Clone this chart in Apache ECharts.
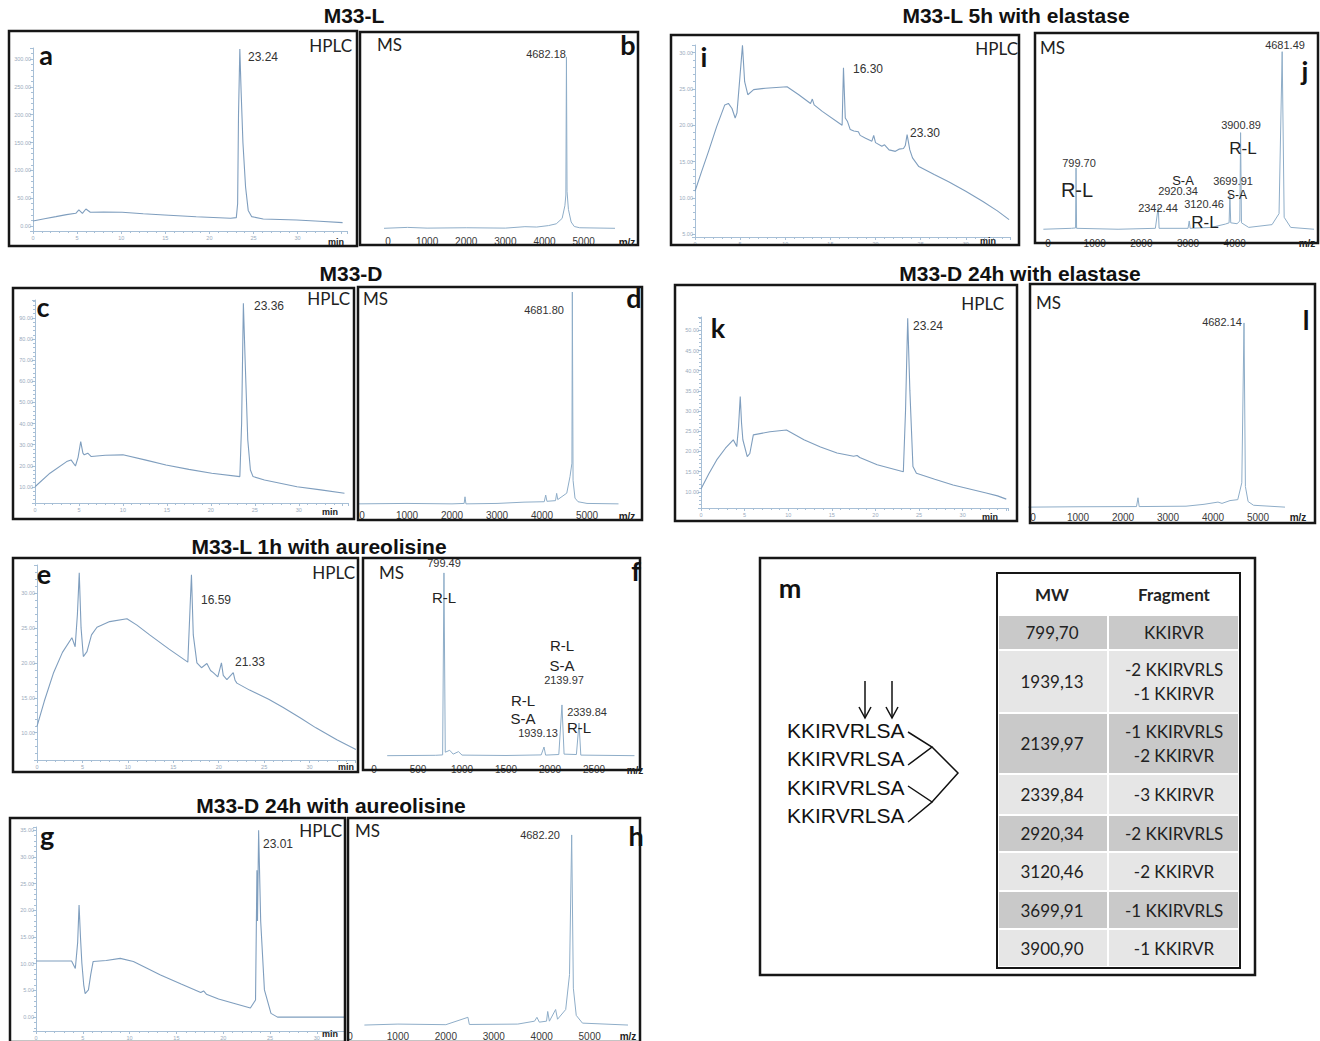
<!DOCTYPE html>
<html>
<head>
<meta charset="utf-8">
<script src="https://cdn.jsdelivr.net/npm/echarts@6/dist/echarts.min.js"></script>
<style>
  html, body { margin: 0; background: #fff; }
  #chart { width: 1320px; height: 1041px; }
</style>
</head>
<body>
<div id="chart"></div>
<script>
// ---- HPLC traces: [minutes, signal] ----
const traceA = [[0, 9], [1.3, 13], [2.6, 16.8], [3.8, 20.5], [4.85, 22.8], [5.2, 28.8], [5.6, 22.8], [6.0, 30.6], [6.5, 24.6], [8, 25], [10.1, 24.6], [12.5, 22], [14.9, 19.8], [18.5, 16.5], [22.4, 13.8], [23.05, 15], [23.2, 40], [23.3, 200], [23.45, 318], [23.6, 240], [23.8, 150], [24.1, 70], [24.4, 28], [24.8, 16.8], [26.1, 12.6], [29.9, 10.8], [32.5, 8.5], [35.1, 6]]
const traceC = [[0, 10.1], [1.7, 16.5], [3.6, 22], [4.1, 22.8], [4.6, 19.9], [4.9, 24], [5.2, 31.5], [5.45, 26], [5.6, 25.2], [6.0, 26], [6.4, 24.4], [8, 25], [10, 25.2], [12.5, 22.8], [14.9, 20.4], [17.5, 18.3], [20.1, 16.5], [23.3, 14.9], [23.5, 40], [23.7, 97], [23.9, 70], [24.2, 32.3], [24.5, 18], [24.8, 14.9], [26.1, 13.3], [29.8, 10.1], [32.5, 8.6], [35.2, 7]]
const traceE = [[0, 10.9], [0.8, 14.5], [1.8, 18.5], [2.8, 21.5], [3.84, 23.6], [4.2, 22.3], [4.45, 27], [4.65, 32.9], [4.85, 25], [5.1, 20.9], [5.5, 21.6], [6.0, 24], [6.6, 25.1], [8, 25.9], [9.9, 26.3], [11, 25.4], [12.4, 24], [14.5, 22], [16.6, 20.1], [16.85, 28], [17.0, 32.6], [17.2, 24], [17.6, 20], [18.1, 19.3], [18.7, 19.9], [19.1, 18.9], [19.4, 18.6], [19.9, 18], [20.3, 20], [20.5, 18.2], [20.9, 17.6], [21.6, 18.6], [21.8, 17.5], [22.0, 17.1], [23.4, 16.1], [25.5, 14.8], [27.1, 13.6], [29, 12.1], [30.7, 10.7], [33, 9], [35.1, 7.6]]
const traceG = [[0, 10.5], [3.8, 10.5], [4.2, 9.1], [4.45, 14], [4.6, 21], [4.75, 15], [4.9, 10.1], [5.1, 6], [5.25, 4.4], [5.6, 5.1], [5.85, 8], [6.1, 10.4], [7.5, 10.6], [9.0, 11], [10.4, 10.4], [11.8, 9.2], [13.3, 7.9], [15.5, 6.2], [17.6, 4.6], [17.9, 4.9], [18.2, 4.3], [19.5, 3.4], [21.1, 2.6], [22.9, 1.7], [23.45, 3.2], [23.6, 27.5], [23.66, 18], [23.78, 35], [24.0, 18], [24.4, 5.1], [25.1, 0.7], [25.8, 0], [33, 0]]
const traceI = [[0, 10.9], [0.7, 13.5], [1.5, 16.4], [2.4, 19.8], [3.3, 22.8], [3.7, 23], [4.1, 22.3], [4.45, 21], [4.65, 21.7], [5.0, 27], [5.26, 31], [5.5, 26], [5.85, 24.2], [6.5, 24.9], [7.8, 25.1], [10.2, 25.3], [11.5, 24.2], [12.8, 23], [13.0, 23.6], [13.2, 22.8], [14.1, 21.9], [16.3, 20.0], [16.45, 27.9], [16.65, 21], [16.9, 20.5], [17.2, 19.4], [17.6, 19.2], [18.1, 19.1], [18.3, 18.6], [18.9, 18.2], [19.6, 17.8], [19.8, 18.6], [20.0, 17.6], [20.7, 17.1], [21.0, 17.3], [21.5, 16.6], [22.2, 16.4], [22.6, 16.7], [23.1, 16.8], [23.3, 17.2], [23.5, 18.7], [23.8, 16.6], [24.1, 15.5], [24.8, 14.3], [26.5, 13.2], [28.1, 12.2], [30, 10.9], [31.9, 9.5], [33.5, 8.2], [34.8, 7.0]]
const traceK = [[0, 10.7], [0.9, 14.5], [1.8, 17.9], [2.8, 20.8], [3.7, 22.9], [4.1, 21.2], [4.3, 26], [4.5, 33.6], [4.65, 27], [4.8, 22.9], [5.3, 18.7], [5.6, 19.5], [6.0, 24.1], [7.9, 24.9], [9.8, 25.3], [11.8, 22.9], [13.7, 21.1], [15.6, 19.6], [17.5, 18.8], [17.9, 19.0], [18.2, 18.5], [20.2, 16.7], [23.2, 15.0], [23.45, 30], [23.7, 53], [23.95, 35], [24.3, 16.3], [24.7, 14.6], [26.8, 13.1], [28.9, 11.7], [30.8, 10.7], [32.7, 9.7], [34, 9], [35, 8.2]]

// ---- MS spectra: [m/z as drawn, relative intensity] ----
const msB = [[-100, 1.5], [500, 2], [1000, 1.6], [2000, 1.8], [3000, 1.6], [3500, 2.4], [3800, 2.2], [4100, 3], [4300, 4], [4450, 7], [4520, 14], [4545, 20], [4560, 96.7], [4575, 22], [4610, 12], [4680, 5], [4760, 2.5], [4900, 1.8], [5800, 1.5]]
const msD = [[-100, 1], [1000, 1.2], [2000, 1], [2270, 1.2], [2289, 4.3], [2310, 1], [3000, 1.2], [3600, 1.8], [4050, 2], [4082, 5.1], [4110, 2.2], [4300, 2.5], [4326, 5.9], [4350, 3], [4550, 6], [4622, 13.7], [4665, 20], [4674, 100], [4690, 12], [4733, 3.7], [4800, 2], [5000, 1.2], [5700, 1]]
const msF = [[150, 1.2], [700, 1.4], [780, 1.6], [795, 95.9], [810, 3], [860, 4], [900, 2], [960, 3.3], [1000, 1.5], [1500, 1.3], [1900, 1.6], [1932, 5.7], [1950, 1.5], [2100, 1.8], [2136, 27.5], [2160, 2], [2300, 1.8], [2330, 18.1], [2350, 1.5], [2960, 1.2]]
const msH = [[300, 1], [1000, 1.5], [2000, 1.2], [2460, 5], [2490, 1.3], [3500, 1.5], [3850, 3], [3900, 5], [3950, 2.5], [4100, 3], [4125, 8], [4160, 3], [4290, 9], [4330, 4], [4500, 9], [4580, 27], [4625, 99], [4660, 20], [4720, 6], [4850, 2], [5800, 1]]
const msJ = [[-100, 1.5], [500, 2], [590, 2.2], [600, 34.8], [612, 2], [1500, 1.5], [2300, 2], [2362, 13.6], [2380, 2], [3000, 2], [3026, 6], [3045, 2], [3500, 2.5], [3800, 4.3], [3880, 5], [3897, 20], [3915, 5], [4050, 4.5], [4110, 6], [4126, 54], [4145, 5], [4300, 2.5], [4800, 4], [4950, 10], [5017, 98], [5060, 8], [5200, 2.5], [5700, 1.5]]
const msL = [[-100, 1], [1000, 1.2], [2300, 1.3], [2333, 6], [2360, 1.3], [3400, 1.5], [3800, 2.5], [4111, 3.7], [4200, 3], [4378, 4.5], [4550, 5], [4640, 14], [4689, 99.5], [4720, 12], [4780, 4], [4900, 2], [5600, 1]]

// ---- table m ----
const tableMw = ['799,70', '1939,13', '2139,97', '2339,84', '2920,34', '3120,46', '3699,91', '3900,90']
const tableFragment = ['KKIRVR', '-2 KKIRVRLS\n-1 KKIRVR', '-1 KKIRVRLS\n-2 KKIRVR', '-3 KKIRVR', '-2 KKIRVRLS', '-2 KKIRVR', '-1 KKIRVRLS', '-1 KKIRVR']
const sequence = 'KKIRVRLSA'

const TRACE = '#7f9ebe'
const AXIS = '#a7bfd6'
const SANS = '"Liberation Sans", Arial, sans-serif'
const CAL = 'Lato, "Open Sans", sans-serif'

const grids = []
const xAxes = []
const yAxes = []
const series = []
const graphics = []

function txt(x, y, text, font, align, fill) {
  graphics.push({
    type: 'text', x, y, z: 50, silent: true,
    style: { text, font, fill: fill || '#222', textAlign: align || 'left', align: align || 'left', textVerticalAlign: 'middle', verticalAlign: 'middle' },
  })
}

function box(r, width) {
  graphics.push({
    type: 'rect', z: 40, silent: true,
    shape: { x: r[0], y: r[1], width: r[2], height: r[3] },
    style: { fill: 'rgba(0,0,0,0)', stroke: '#161616', lineWidth: width || 2.5 },
  })
}

// label only on multiples of the step, up to the last label shown in the picture
function stepLabel(step, digits, last) {
  return (v) => {
    const onStep = Math.abs(v / step - Math.round(v / step)) < 1e-6
    if (!onStep || v < 0 || (last != null && v > last)) return ''
    return v.toFixed(digits)
  }
}

function addHplc(p) {
  const i = grids.length
  grids.push({ left: p.grid[0], top: p.grid[1], width: p.grid[2], height: p.grid[3], containLabel: false, outerBoundsMode: 'none' })
  xAxes.push({
    gridIndex: i, type: 'value', min: 0, max: p.xMax, minInterval: 5, maxInterval: 5,
    axisLine: { onZero: false, lineStyle: { color: AXIS, width: 1 } },
    axisTick: { length: 3, lineStyle: { color: AXIS } },
    minorTick: { show: true, splitNumber: 5, length: 2, lineStyle: { color: AXIS } },
    splitLine: { show: false },
    axisLabel: { fontSize: 5.5, color: '#9aabbd', margin: 4, formatter: stepLabel(5, 0, 30) },
  })
  yAxes.push({
    gridIndex: i, type: 'value', min: p.yMin, max: p.yMax, minInterval: p.yStep, maxInterval: p.yStep,
    axisLine: { show: true, onZero: false, lineStyle: { color: AXIS, width: 1 } },
    axisTick: { show: true, length: 3, lineStyle: { color: AXIS } },
    minorTick: { show: true, splitNumber: 5, length: 2, lineStyle: { color: AXIS } },
    splitLine: { show: false },
    axisLabel: { fontSize: 5.5, color: '#9aabbd', margin: 2, formatter: stepLabel(p.yStep, 2, null) },
  })
  series.push({
    type: 'line', xAxisIndex: i, yAxisIndex: i, data: p.data, showSymbol: false, silent: true,
    lineStyle: { color: TRACE, width: 1.1 }, clip: true,
  })
}

function addMs(p) {
  const i = grids.length
  grids.push({ left: p.grid[0], top: p.grid[1], width: p.grid[2], height: p.grid[3], containLabel: false, outerBoundsMode: 'none' })
  xAxes.push({
    gridIndex: i, type: 'value', min: p.xMin, max: p.xMax, minInterval: p.step, maxInterval: p.step,
    axisLine: { show: false, onZero: false },
    axisTick: { show: false },
    splitLine: { show: false },
    axisLabel: { fontSize: 10, color: '#3a3a3a', fontFamily: SANS, margin: p.margin, formatter: stepLabel(p.step, 0, p.last) },
  })
  yAxes.push({ gridIndex: i, type: 'value', min: 0, max: 100, show: false })
  series.push({
    type: 'line', xAxisIndex: i, yAxisIndex: i, data: p.data, showSymbol: false, silent: true,
    lineStyle: { color: '#8eadc8', width: 1 },
  })
}

// ---- panels ----
addHplc({ grid: [33, 48, 314, 183], xMax: 35.6, yMin: -9, yMax: 320, yStep: 50, data: traceA })
addMs({ grid: [384, 51, 231, 180], xMin: -100, xMax: 5800, step: 1000, last: 5000, margin: 5, data: msB })
addHplc({ grid: [35, 300, 313, 203], xMax: 35.6, yMin: 2.4, yMax: 98.5, yStep: 10, data: traceC })
addMs({ grid: [357.5, 292, 261, 214], xMin: -100, xMax: 5700, step: 1000, last: 5000, margin: 4, data: msD })
addHplc({ grid: [37, 565, 318, 195], xMax: 35, yMin: 6.1, yMax: 34, yStep: 5, data: traceE })
addMs({ grid: [374, 565, 264, 193], xMin: 0, xMax: 3000, step: 500, last: 2500, margin: 6, data: msF })
addHplc({ grid: [36, 827, 308, 204], xMax: 32.9, yMin: -2.6, yMax: 35.6, yStep: 5, data: traceG })
addMs({ grid: [350, 833, 278, 194], xMin: 0, xMax: 5800, step: 1000, last: 5000, margin: 4, data: msH })
addHplc({ grid: [695, 45, 315, 192], xMax: 34.9, yMin: 4.6, yMax: 31.05, yStep: 5, data: traceI })
addMs({ grid: [1038.7, 48, 280, 184], xMin: -200, xMax: 5800, step: 1000, last: 4000, margin: 6, data: msJ })
addHplc({ grid: [701, 317, 307, 191], xMax: 35.2, yMin: 6, yMax: 53.3, yStep: 5, data: traceK })
addMs({ grid: [1024, 322, 279, 187], xMin: -200, xMax: 6000, step: 1000, last: 5000, margin: 3, data: msL })

// frames
;[[9, 31, 348, 215], [360, 32, 278, 213], [671, 35, 348, 210], [1035, 33, 283, 210],
  [13, 288, 341, 231], [358, 287, 284, 233], [675, 285, 342, 236], [1030, 284, 285, 239],
  [13, 558, 345, 214], [363, 558, 277, 212], [760, 558, 495, 417],
  [10, 818, 335, 224], [348, 818, 292, 224]].forEach((r) => box(r))

// titles
const TITLE = `bold 21px ${SANS}`
txt(354, 15, 'M33-L', TITLE, 'center', '#111')
txt(1016, 15, 'M33-L 5h with elastase', TITLE, 'center', '#111')
txt(351, 273, 'M33-D', TITLE, 'center', '#111')
txt(1020, 273, 'M33-D 24h with elastase', TITLE, 'center', '#111')
txt(319, 546, 'M33-L 1h with aureolisine', TITLE, 'center', '#111')
txt(331, 805, 'M33-D 24h with aureolisine', TITLE, 'center', '#111')

// panel letters
const LET = `bold 27px ${CAL}`
;[['a', 46, 54], ['b', 628, 44], ['c', 43, 306], ['d', 634, 297], ['e', 44, 573], ['f', 636, 570],
  ['g', 47, 835], ['h', 636, 835], ['i', 704, 56], ['j', 1305, 70], ['k', 718, 327], ['l', 1306, 319], ['m', 790, 587]]
  .forEach(([t, x, y]) => txt(x, y, t, LET, 'center', '#111'))

// HPLC / MS tags
const TAG = `17px ${CAL}`
;[[352, 45], [350, 298], [355, 572], [342, 830], [1018, 48], [1004, 303]].forEach(([x, y]) => txt(x, y, 'HPLC', TAG, 'right'))
;[[377, 44], [363, 298], [379, 572], [355, 830], [1040, 47], [1036, 302]].forEach(([x, y]) => txt(x, y, 'MS', TAG, 'left'))
;[[336, 242], [330, 512], [346, 767], [330, 1034], [988, 241], [990, 517]].forEach(([x, y]) => txt(x, y, 'min', `bold 9px ${SANS}`, 'center'))
;[[627, 242], [627, 516], [635, 770], [628, 1036], [1307, 243], [1298, 517]].forEach(([x, y]) => txt(x, y, 'm/z', `bold 10px ${SANS}`, 'center'))

// peak annotations
const PK = `12px ${SANS}`
const PKS = `11px ${SANS}`
txt(248, 57, '23.24', PK, 'left', '#333')
txt(254, 306, '23.36', PK, 'left', '#333')
txt(201, 600, '16.59', PK, 'left', '#333')
txt(235, 662, '21.33', PK, 'left', '#333')
txt(263, 844, '23.01', PK, 'left', '#333')
txt(853, 69, '16.30', PK, 'left', '#333')
txt(910, 133, '23.30', PK, 'left', '#333')
txt(913, 326, '23.24', PK, 'left', '#333')
txt(546, 54, '4682.18', PKS, 'center', '#333')
txt(544, 310, '4681.80', PKS, 'center', '#333')
txt(540, 835, '4682.20', PKS, 'center', '#333')
txt(1222, 322, '4682.14', PKS, 'center', '#333')
// f
txt(444, 563, '799.49', PKS, 'center', '#333')
txt(444, 597, 'R-L', `15px ${SANS}`, 'center', '#222')
txt(562, 645, 'R-L', `15px ${SANS}`, 'center', '#222')
txt(562, 665, 'S-A', `15px ${SANS}`, 'center', '#222')
txt(564, 680, '2139.97', PKS, 'center', '#333')
txt(523, 700, 'R-L', `15px ${SANS}`, 'center', '#222')
txt(523, 718, 'S-A', `15px ${SANS}`, 'center', '#222')
txt(538, 733, '1939.13', PKS, 'center', '#333')
txt(587, 712, '2339.84', PKS, 'center', '#333')
txt(579, 727, 'R-L', `15px ${SANS}`, 'center', '#222')
// j
txt(1079, 163, '799.70', PKS, 'center', '#333')
txt(1077, 190, 'R-L', `20px ${SANS}`, 'center', '#222')
txt(1183, 180, 'S-A', `13px ${SANS}`, 'center', '#222')
txt(1178, 191, '2920.34', PKS, 'center', '#333')
txt(1158, 208, '2342.44', PKS, 'center', '#333')
txt(1204, 204, '3120.46', PKS, 'center', '#333')
txt(1205, 222, 'R-L', `17px ${SANS}`, 'center', '#222')
txt(1233, 181, '3699.91', PKS, 'center', '#333')
txt(1237, 195, 'S-A', `12px ${SANS}`, 'center', '#222')
txt(1241, 125, '3900.89', PKS, 'center', '#333')
txt(1243, 148, 'R-L', `17px ${SANS}`, 'center', '#222')
txt(1285, 45, '4681.49', PKS, 'center', '#333')

// ---- panel m: cleavage scheme ----
const seqY = [730, 758, 787, 815]
seqY.forEach((y) => txt(787, y, sequence, `21px ${SANS}`, 'left', '#111'))
const LINE = { stroke: '#111', lineWidth: 1.5, fill: null }
function poly(points) {
  graphics.push({ type: 'polyline', z: 50, silent: true, shape: { points }, style: LINE })
}
;[865, 892].forEach((x) => {
  poly([[x, 681], [x, 718]])
  poly([[x - 6, 707], [x, 718], [x + 6, 707]])
})
poly([[908, 732], [932, 747], [908, 765]])
poly([[908, 786], [932, 802], [908, 822]])
poly([[932, 747], [958, 773], [932, 802]])

// ---- panel m: table ----
const rowEdges = [615, 650, 713, 774, 815, 852, 891, 929, 967]
const colMw = [999, 1107]
const colFr = [1109, 1238]
txt(1052, 594, 'MW', `bold 17px ${CAL}`, 'center', '#222')
txt(1174, 594, 'Fragment', `bold 17px ${CAL}`, 'center', '#222')
tableMw.forEach((mw, r) => {
  const y0 = rowEdges[r] + 1
  const h = rowEdges[r + 1] - rowEdges[r] - 2
  const fill = r % 2 === 0 ? '#c9c9c9' : '#e6e6e6'
  ;[colMw, colFr].forEach((c) => {
    graphics.push({ type: 'rect', z: 20, silent: true, shape: { x: c[0], y: y0, width: c[1] - c[0], height: h }, style: { fill } })
  })
  const cy = y0 + h / 2
  txt(1052, cy, mw, `17px ${CAL}`, 'center', '#222')
  graphics.push({
    type: 'text', x: 1174, y: cy, z: 50, silent: true,
    style: { text: tableFragment[r], font: `17px ${CAL}`, fill: '#222', textAlign: 'center', align: 'center', textVerticalAlign: 'middle', verticalAlign: 'middle', lineHeight: 24 },
  })
})
box([997, 573, 243, 395], 2)

const chart = echarts.init(document.getElementById('chart'), null, { renderer: 'svg' })
chart.setOption({
  animation: false,
  backgroundColor: '#ffffff',
  grid: grids,
  xAxis: xAxes,
  yAxis: yAxes,
  series,
  graphic: { elements: graphics },
})
</script>
</body>
</html>
